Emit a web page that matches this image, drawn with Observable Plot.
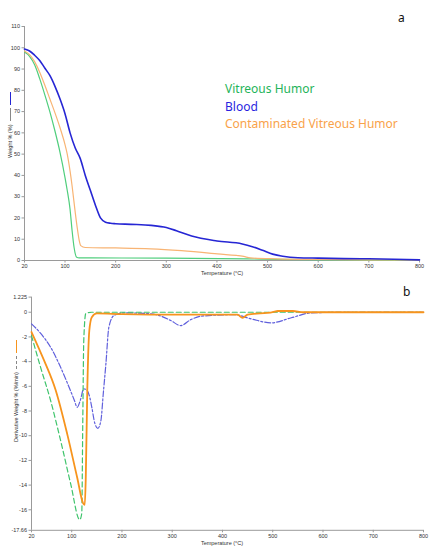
<!DOCTYPE html>
<html>
<head>
<meta charset="utf-8">
<script src="https://cdn.jsdelivr.net/npm/d3@7"></script>
<script src="https://cdn.jsdelivr.net/npm/@observablehq/plot@0.6"></script>
<style>
  html, body { margin: 0; padding: 0; background: #fff; }
  #wrap { position: relative; width: 441px; height: 550px; overflow: hidden; font-family: "Liberation Sans", Arial, sans-serif; }
  .abs { position: absolute; white-space: nowrap; }
  .legend { font-family: "Noto Sans", sans-serif; font-size: 12px; line-height: 17.5px; }
  .tiny { font-size: 5.5px; line-height: 6px; color: #333; }
  .ylab { transform-origin: 0 0; transform: rotate(-90deg); display: flex; align-items: center; gap: 3px; font-size: 5.5px; color: #333; }
  .seg { display: inline-block; height: 0; }
</style>
</head>
<body>
<div id="wrap"></div>
<script>
// ---- Data ----
// Top panel: Weight % vs Temperature
const xTicks = [20, 100, 200, 300, 400, 500, 600, 700, 800];
const wTicks = [0, 10, 20, 30, 40, 50, 60, 70, 80, 90, 100, 110];

const bloodT = [20, 30, 40, 50, 60, 70, 80, 90, 100, 110, 120, 130, 140, 150, 160, 170, 180, 190, 200, 230, 270, 300, 320, 350, 400, 450, 470, 490, 510, 530, 560, 600, 650, 700, 750, 800];
const bloodW = [99.4, 98.5, 96.5, 94, 90.5, 87, 82, 76, 69, 60, 53, 48, 40, 33, 26, 20, 18, 17.5, 17.3, 17, 16.5, 15.5, 14, 11.5, 9.2, 7.8, 6.5, 4.8, 3, 2, 1.3, 1.1, 0.9, 0.8, 0.6, 0.3];

const vitT = [20, 30, 40, 50, 60, 70, 80, 90, 100, 104, 110, 114, 118, 123, 128, 150, 300, 460, 520, 650, 800];
const vitW = [98, 96, 92, 85.5, 78, 70, 61, 51, 39, 33.5, 24, 14, 6, 1.5, 1.2, 1.2, 1.1, 0.8, 0.5, 0.3, 0.1];

const conT = [20, 30, 40, 50, 60, 70, 80, 90, 100, 104, 110, 114, 120, 124, 128, 131, 140, 200, 269, 330, 401, 453, 466, 518, 600, 700, 800];
const conW = [98.5, 96.8, 93.5, 88.5, 82.5, 76, 69.5, 62.5, 54.5, 50.5, 42, 35, 23, 15.6, 9.5, 7, 6.1, 5.9, 5.5, 4.6, 3.1, 1.9, 1.2, 0.8, 0.5, 0.3, 0.2];

// Bottom panel: Derivative weight % vs Temperature
const dTicks = [1.225, 0, -2, -4, -6, -8, -10, -12, -14, -16, -17.66];

const bloodDT = [20, 40, 58, 75, 91, 105, 111, 117, 124, 130, 136, 140, 146, 152, 158, 163, 168, 174, 184, 204, 257, 280, 297, 317, 337, 357, 424, 457, 497, 537, 577, 650, 800];
const bloodD  = [-0.94, -1.8, -2.83, -4.2, -5.7, -7.1, -7.7, -7.15, -6.2, -6.3, -6.9, -7.7, -9.0, -9.4, -8.8, -6.5, -4.2, -1.2, -0.27, -0.05, -0.13, -0.35, -0.67, -1.08, -0.6, -0.32, -0.2, -0.54, -0.86, -0.45, -0.05, 0, 0];

const vitDT = [20, 38, 58, 78, 98, 116, 120, 122, 124, 128, 140, 800];
const vitD  = [-1.9, -4.45, -7.15, -10.4, -13.9, -16.8, -16.3, -9, -2.3, -0.1, 0, 0];

const conDT = [20, 45, 68, 91, 111, 123, 126, 128, 131, 135, 140, 150, 200, 300, 430, 440, 450, 500, 510, 540, 560, 800];
const conD  = [-1.6, -3.9, -6.3, -9.85, -13.4, -15.5, -15.6, -13.4, -6.3, -1.5, -0.4, -0.1, -0.15, -0.2, -0.2, -0.45, -0.2, 0, 0.1, 0.1, 0, 0];

const seriesNames = ["Vitreous Humor", "Blood", "Contaminated Vitreous Humor"];

// ---- Helpers ----
const zip = (xs, ys) => xs.map((x, i) => ({x, y: ys[i]}));
const axisColor = "#9a9a9a";
const fontStyle = {fontSize: "5.5px", fontFamily: "Liberation Sans, Arial, sans-serif", color: "#333", background: "transparent", overflow: "visible"};

const wrap = document.getElementById("wrap");

// ---- Top chart ----
const chartA = Plot.plot({
  width: 441, height: 280,
  marginLeft: 24, marginRight: 22, marginTop: 26, marginBottom: 20,
  style: fontStyle,
  x: {domain: [20, 800]},
  y: {domain: [0, 110]},
  marks: [
    Plot.ruleX([20], {stroke: axisColor}),
    Plot.ruleY([0], {stroke: axisColor}),
    Plot.axisX({ticks: xTicks, tickSize: 2.5, tickPadding: 1, label: null, tickFormat: d => d, stroke: axisColor}),
    Plot.axisY({ticks: wTicks, tickSize: 2.5, tickPadding: 2, label: null, tickFormat: d => d, stroke: axisColor}),
    Plot.line(zip(vitT, vitW), {x: "x", y: "y", stroke: "#4fce7c", strokeWidth: 1.2, curve: "monotone-x"}),
    Plot.line(zip(conT, conW), {x: "x", y: "y", stroke: "#f8b474", strokeWidth: 1.2, curve: "monotone-x"}),
    Plot.line(zip(bloodT, bloodW), {x: "x", y: "y", stroke: "#2626d4", strokeWidth: 1.6, curve: "monotone-x"})
  ]
});
chartA.style.position = "absolute"; chartA.style.left = "0px"; chartA.style.top = "0px";
wrap.appendChild(chartA);

// ---- Bottom chart ----
const chartB = Plot.plot({
  width: 441, height: 265,
  marginLeft: 31, marginRight: 18, marginTop: 11.6, marginBottom: 20.2,
  style: fontStyle,
  x: {domain: [20, 800]},
  y: {domain: [-17.66, 1.225]},
  marks: [
    Plot.ruleX([20], {stroke: axisColor}),
    Plot.ruleY([-17.66], {stroke: axisColor}),
    Plot.axisX({ticks: xTicks, tickSize: 2.5, tickPadding: 1, label: null, tickFormat: d => d, stroke: axisColor}),
    Plot.axisY({ticks: dTicks, tickSize: 2.5, tickPadding: 2, label: null, tickFormat: d => d, stroke: axisColor}),
    Plot.line(zip(bloodDT, bloodD), {x: "x", y: "y", stroke: "#5f5fdc", strokeWidth: 1.2, strokeDasharray: "6,2,2,2", curve: "monotone-x"}),
    Plot.line(zip(vitDT, vitD), {x: "x", y: "y", stroke: "#3fc46c", strokeWidth: 1.2, strokeDasharray: "5,3", curve: "monotone-x"}),
    Plot.line(zip(conDT, conD), {x: "x", y: "y", stroke: "#f7941d", strokeWidth: 1.8, curve: "monotone-x"})
  ]
});
chartB.style.position = "absolute"; chartB.style.left = "0px"; chartB.style.top = "285px";
wrap.appendChild(chartB);

// ---- Annotations ----
function addDiv(html, css, cls) {
  const d = document.createElement("div");
  d.className = "abs " + (cls || "");
  d.innerHTML = html;
  Object.assign(d.style, css);
  wrap.appendChild(d);
  return d;
}
// legend
const legendColors = ["#1fb45a", "#2a1fe0", "#f9a24a"];
addDiv(seriesNames.map((n, i) => `<div style="color:${legendColors[i]}">${n}</div>`).join(""),
  {left: "225px", top: "80px"}, "legend");
// panel letters
addDiv("a", {left: "398px", top: "9px", fontFamily: "Noto Sans, sans-serif", fontSize: "12px", color: "#111"});
addDiv("b", {left: "403px", top: "283px", fontFamily: "Noto Sans, sans-serif", fontSize: "12px", color: "#111"});
// x-axis titles
addDiv("Temperature (°C)", {left: "222px", top: "270px", transform: "translateX(-50%)"}, "tiny");
addDiv("Temperature (°C)", {left: "222px", top: "540px", transform: "translateX(-50%)"}, "tiny");
// y-axis titles with line samples
addDiv(`<span>Weight % (%)</span><span class="seg" style="width:13px;border-top:0.8px solid #888"></span><span class="seg" style="width:13px;border-top:1.6px solid #2626d4"></span>`,
  {left: "7px", top: "158px"}, "ylab");
addDiv(`<span>Derivative Weight % (%/min)</span><span class="seg" style="width:13px;border-top:0.8px dashed #888"></span><span class="seg" style="width:13px;border-top:1.8px solid #f7941d"></span>`,
  {left: "13px", top: "442px"}, "ylab");
</script>
</body>
</html>
